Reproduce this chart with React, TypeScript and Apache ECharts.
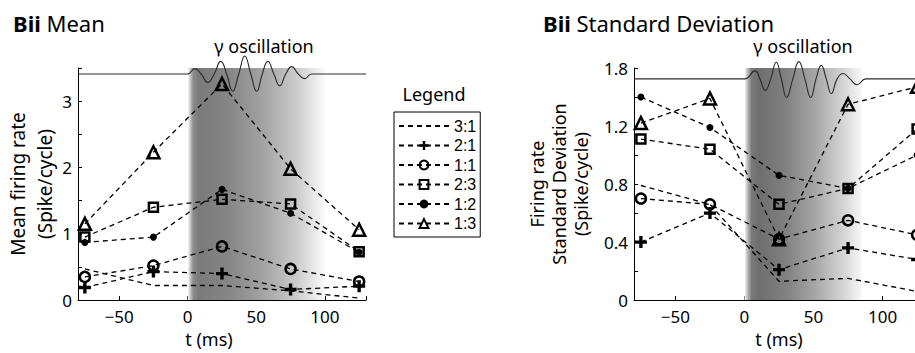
import React, { useEffect, useRef } from 'react';
import * as echarts from 'echarts';

// ---------- data ----------
const T = [-75, -25, 25, 75, 125];
const NAMES = ['3:1', '2:1', '1:1', '2:3', '1:2', '1:3'];

// Mean firing rate (spike/cycle)
const MEAN_31 = [0.47, 0.22, 0.22, 0.14, 0.03];
const MEAN_21 = [0.19, 0.43, 0.40, 0.16, 0.21];
const MEAN_11 = [0.35, 0.52, 0.81, 0.47, 0.28];
const MEAN_23 = [0.95, 1.40, 1.52, 1.45, 0.73];
const MEAN_12 = [0.87, 0.95, 1.67, 1.31, 0.72];
const MEAN_13 = [1.15, 2.23, 3.26, 1.98, 1.06];

// Firing rate standard deviation (spike/cycle), on the drawn linear scale
const SD_31 = [0.79, 0.66, 0.13, 0.15, 0.06];
const SD_21 = [0.40, 0.60, 0.21, 0.36, 0.28];
const SD_11 = [0.70, 0.66, 0.42, 0.55, 0.45];
const SD_23 = [1.11, 1.04, 0.66, 0.77, 1.18];
const SD_12 = [1.40, 1.19, 0.86, 0.77, 1.00];
const SD_13 = [1.22, 1.39, 0.42, 1.35, 1.47];

// gamma oscillation trace (t, level): extremes and baseline crossings
const MEAN_OSC: [number, number][] = [
  [-80, 3.41], [0, 3.41], [5.1, 3.49], [9.8, 3.41], [14.6, 3.28], [19.3, 3.41], [24.1, 3.6],
  [28.4, 3.41], [32.8, 3.15], [37.2, 3.41], [41.6, 3.68], [46, 3.41], [50.3, 3.15], [54.4, 3.41],
  [58.4, 3.6], [62.8, 3.41], [67.1, 3.23], [71.5, 3.41], [75.9, 3.52], [80.6, 3.41], [85.3, 3.34],
  [90.4, 3.41], [130, 3.41],
];
const SD_OSC: [number, number][] = [
  [-80, 1.525], [0, 1.525], [7.5, 1.58], [11.2, 1.525], [15, 1.446], [19, 1.525], [23, 1.64],
  [26.7, 1.525], [30.5, 1.397], [35, 1.525], [39.4, 1.644], [43.7, 1.525], [48, 1.397],
  [51.8, 1.525], [55.6, 1.618], [59.2, 1.525], [62.9, 1.424], [67.1, 1.525], [71.3, 1.562],
  [76.4, 1.525], [81.5, 1.485], [88, 1.525], [130, 1.525],
];
const MEAN_GAMMA_WINDOW = [0, 100];
const SD_GAMMA_WINDOW = [0, 85];

const X_RANGE = [-80, 130];
const X_TICKS = [-50, 0, 50, 100];
const MEAN_Y_MAX = 3.5;
const MEAN_Y_LABELS = [0, 1, 2, 3];
const SD_Y_MAX = 1.6;
const SD_Y_TICK_LABELS: [number, string][] = [[0, '0'], [0.4, '0.4'], [0.8, '0.8'], [1.2, '1.2'], [1.6, '1.8']];

// ---------- styling ----------
const FONT = 'Noto Sans';
const LEGEND_FONT = 'Liberation Sans';
const PLUS = 'path://M3.6,0H6.4V3.6H10V6.4H6.4V10H3.6V6.4H0V3.6H3.6Z';
const MARKERS: Record<string, { symbol: string; size: number; filled: boolean }> = {
  '3:1': { symbol: 'none', size: 0, filled: false },
  '2:1': { symbol: PLUS, size: 12, filled: true },
  '1:1': { symbol: 'circle', size: 10, filled: false },
  '2:3': { symbol: 'rect', size: 9, filled: false },
  '1:2': { symbol: 'circle', size: 7, filled: true },
  '1:3': { symbol: 'triangle', size: 12, filled: false },
};

const fmtX = (v: number) => {
  if (!X_TICKS.some((t) => Math.abs(t - v) < 1e-6)) return '';
  return v < 0 ? '\u2212' + Math.abs(v) : String(v);
};

function dataSeries(name: string, vals: number[], idx: number) {
  const m = MARKERS[name];
  return {
    name,
    type: 'line',
    xAxisIndex: idx,
    yAxisIndex: idx,
    data: T.map((t, i) => [t, vals[i]]),
    symbol: m.symbol,
    symbolSize: m.size,
    showSymbol: m.symbol !== 'none',
    clip: true,
    z: 3,
    lineStyle: { color: '#000', width: 1.3, type: [5, 4] },
    itemStyle:
      m.symbol === 'none'
        ? { color: 'rgba(0,0,0,0)', borderWidth: 0 }
        : m.filled
        ? { color: '#000', borderWidth: 0 }
        : { color: 'rgba(0,0,0,0)', borderColor: '#000', borderWidth: 2.5 },
    emphasis: { disabled: true },
  };
}

function shadeSeries(idx: number, win: number[], yMax: number, stops: [number, string][]) {
  return {
    type: 'line',
    xAxisIndex: idx,
    yAxisIndex: idx,
    data: [],
    z: 0,
    silent: true,
    markArea: {
      silent: true,
      itemStyle: {
        color: {
          type: 'linear', x: 0, y: 0, x2: 1, y2: 0,
          colorStops: stops.map(([offset, color]) => ({ offset, color })),
        },
      },
      data: [[{ xAxis: win[0], yAxis: 0 }, { xAxis: win[1], yAxis: yMax }]],
    },
  };
}

function oscSeries(idx: number, pts: [number, number][]) {
  return {
    type: 'line',
    xAxisIndex: idx,
    yAxisIndex: idx,
    data: pts,
    symbol: 'none',
    smooth: 0.5,
    clip: false,
    z: 1,
    silent: true,
    lineStyle: { color: '#2a2a2a', width: 1.1 },
  };
}

const axisCommon = {
  axisLine: { show: true, onZero: false, lineStyle: { color: '#000', width: 1 } },
  axisTick: { show: true, inside: true, length: 4, lineStyle: { color: '#000', width: 1 } },
  splitLine: { show: false },
};

export default function App() {
  const ref = useRef<HTMLDivElement>(null);

  useEffect(() => {
    if (!ref.current) return;
    const chart = echarts.init(ref.current, undefined, { renderer: 'svg' });

    const xAxisFor = (gridIndex: number, padRight: number) => ({
      type: 'value',
      gridIndex,
      min: X_RANGE[0],
      max: X_RANGE[1],
      splitNumber: 4,
      ...axisCommon,
      axisLabel: { formatter: fmtX, color: '#000', fontSize: 17, fontFamily: FONT, margin: 8 },
      name: 't (ms)',
      nameLocation: 'middle',
      nameGap: 27,
      nameTextStyle: { color: '#000', fontSize: 18, fontFamily: FONT, padding: [0, padRight, 0, 0] },
    });

    chart.setOption({
      animation: false,
      backgroundColor: '#fff',
      grid: [
        { left: 78, top: 68, width: 288, height: 238, containLabel: false },
        { left: 634, top: 68, width: 290, height: 239, containLabel: false },
      ],
      xAxis: [xAxisFor(0, 26), xAxisFor(1, 0)],
      yAxis: [
        {
          type: 'value',
          gridIndex: 0,
          min: 0,
          max: MEAN_Y_MAX,
          interval: 0.5,
          ...axisCommon,
          axisLabel: {
            formatter: (v: number) => (MEAN_Y_LABELS.some((t) => Math.abs(t - v) < 1e-6) ? String(Math.round(v)) : ''),
            color: '#000', fontSize: 17, fontFamily: FONT, margin: 6,
          },
          name: 'Mean firing rate\n(Spike/cycle)',
          nameLocation: 'middle',
          nameGap: 14,
          nameTextStyle: { color: '#000', fontSize: 19, fontFamily: FONT, lineHeight: 27 },
        },
        {
          type: 'value',
          gridIndex: 1,
          min: 0,
          max: SD_Y_MAX,
          interval: 0.2,
          ...axisCommon,
          axisLabel: {
            formatter: (v: number) => {
              const f = SD_Y_TICK_LABELS.find(([t]) => Math.abs(t - v) < 1e-6);
              return f ? f[1] : '';
            },
            color: '#000', fontSize: 17, fontFamily: FONT, margin: 6,
          },
          name: 'Firing rate\nStandard Deviation\n(Spike/cycle)',
          nameLocation: 'middle',
          nameGap: 42,
          nameTextStyle: { color: '#000', fontSize: 18, fontFamily: FONT, lineHeight: 22 },
        },
      ],
      legend: {
        orient: 'vertical',
        left: 394,
        top: 112,
        itemWidth: 50,
        itemHeight: 11,
        itemGap: 3.5,
        padding: [6, 4, 5.5, 4],
        borderColor: '#000',
        borderWidth: 1,
        backgroundColor: '#fff',
        selectedMode: false,
        data: NAMES,
        textStyle: { color: '#000', fontSize: 16, fontFamily: LEGEND_FONT },
      },
      graphic: [
        {
          type: 'text', x: 13, y: 23,
          style: {
            text: '{b|Bii} Mean', fill: '#000', fontSize: 22, fontFamily: FONT,
            textAlign: 'left', textVerticalAlign: 'middle',
            rich: { b: { fontWeight: 'bold', fontSize: 22, fontFamily: FONT, fill: '#000' } },
          },
        },
        {
          type: 'text', x: 543, y: 23,
          style: {
            text: '{b|Bii} Standard Deviation', fill: '#000', fontSize: 22, fontFamily: FONT,
            textAlign: 'left', textVerticalAlign: 'middle',
            rich: { b: { fontWeight: 'bold', fontSize: 22, fontFamily: FONT, fill: '#000' } },
          },
        },
        {
          type: 'text', x: 264, y: 46,
          style: { text: '\u03b3 oscillation', fill: '#000', fontSize: 18, fontFamily: FONT, textAlign: 'center', textVerticalAlign: 'middle' },
        },
        {
          type: 'text', x: 803, y: 46,
          style: { text: '\u03b3 oscillation', fill: '#000', fontSize: 18, fontFamily: FONT, textAlign: 'center', textVerticalAlign: 'middle' },
        },
        {
          type: 'text', x: 434, y: 94,
          style: { text: 'Legend', fill: '#000', fontSize: 18, fontFamily: FONT, textAlign: 'center', textVerticalAlign: 'middle' },
        },
      ],
      series: [
        shadeSeries(0, MEAN_GAMMA_WINDOW, MEAN_Y_MAX, [
          [0, '#ffffff'], [0.015, '#d0d0d0'], [0.04, '#8c8c8c'], [0.08, '#7a7a7a'],
          [0.3, '#868686'], [0.55, '#a3a3a3'], [0.8, '#cccccc'], [1, '#fbfbfb'],
        ]),
        shadeSeries(1, SD_GAMMA_WINDOW, SD_Y_MAX, [
          [0, '#ffffff'], [0.02, '#c8c8c8'], [0.06, '#7a7a7a'], [0.12, '#6e6e6e'],
          [0.35, '#808080'], [0.6, '#a6a6a6'], [0.85, '#d6d6d6'], [1, '#f8f8f8'],
        ]),
        oscSeries(0, MEAN_OSC),
        oscSeries(1, SD_OSC),
        dataSeries('3:1', MEAN_31, 0),
        dataSeries('2:1', MEAN_21, 0),
        dataSeries('1:1', MEAN_11, 0),
        dataSeries('2:3', MEAN_23, 0),
        dataSeries('1:2', MEAN_12, 0),
        dataSeries('1:3', MEAN_13, 0),
        dataSeries('3:1', SD_31, 1),
        dataSeries('2:1', SD_21, 1),
        dataSeries('1:1', SD_11, 1),
        dataSeries('2:3', SD_23, 1),
        dataSeries('1:2', SD_12, 1),
        dataSeries('1:3', SD_13, 1),
      ],
    });

    return () => chart.dispose();
  }, []);

  return (
    <div style={{ position: 'absolute', left: 0, top: 0, width: 915, height: 353, overflow: 'hidden', background: '#fff' }}>
      <div ref={ref} style={{ width: 935, height: 353 }} />
    </div>
  );
}
